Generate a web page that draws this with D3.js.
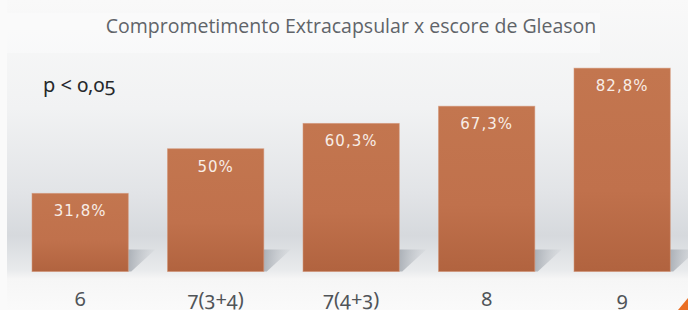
<!DOCTYPE html>
<html>
<head>
<meta charset="utf-8">
<script src="https://cdn.jsdelivr.net/npm/d3@7"></script>
<style>
    html, body { margin: 0; padding: 0; background: #fafafa; }
    #chart { width: 688px; height: 310px; }
    .onum { font-feature-settings: "onum" 1; }
</style>
</head>
<body>
<div id="chart"></div>
<script>
//Datos
const categorias = ['6', '7(3+4)', '7(4+3)', '8', '9'];
const valores = [31.8, 50, 60.3, 67.3, 82.8];
const etiquetas = ['31,8%', '50%', '60,3%', '67,3%', '82,8%'];
const titulo = 'Comprometimento Extracapsular x escore de Gleason';
const nota = 'p < 0,05';

//Colores fijos
const COLOR_BAR_TOP = '#c3764f',
COLOR_BAR_BOTTOM = '#b1633f',
COLOR_TITLE = '#606469',
COLOR_AXIS = '#505458',
COLOR_ACCENT = '#ea6f24';

let margin = {top: 26, right: 0, bottom: 39, left: 0},
    width = 688 - margin.left - margin.right,
    height = 310 - margin.top - margin.bottom;

let svg = d3.select('#chart')
    .append('svg')
      .attr('width', 688)
      .attr('height', 310);

let defs = svg.append('defs');

//Fondo degradado
let bg = defs.append('linearGradient').attr('id', 'bg').attr('x1', 0).attr('y1', 0).attr('x2', 0).attr('y2', 1);
[[0, '#f9f9f9'], [0.35, '#f1f2f3'], [0.62, '#e2e4e7'], [0.76, '#d6d9dd'], [0.87, '#e8eaec'], [0.9, '#f6f6f6'], [1, '#fafafa']]
    .forEach(function(s) { bg.append('stop').attr('offset', s[0]).attr('stop-color', s[1]); });

let barGrad = defs.append('linearGradient').attr('id', 'barGrad').attr('x1', 0).attr('y1', 0).attr('x2', 0).attr('y2', 1);
barGrad.append('stop').attr('offset', 0).attr('stop-color', COLOR_BAR_TOP);
barGrad.append('stop').attr('offset', 0.6).attr('stop-color', '#c0714c');
barGrad.append('stop').attr('offset', 1).attr('stop-color', COLOR_BAR_BOTTOM);

let shadowGrad = defs.append('linearGradient').attr('id', 'shadowGrad').attr('x1', 0).attr('y1', 0).attr('x2', 1).attr('y2', 0);
shadowGrad.append('stop').attr('offset', 0).attr('stop-color', '#9aa0a8').attr('stop-opacity', 0.75);
shadowGrad.append('stop').attr('offset', 1).attr('stop-color', '#b4b9bf').attr('stop-opacity', 0.1);

svg.append('rect')
    .attr('x', 0).attr('y', 0).attr('width', 688).attr('height', 310)
    .attr('fill', '#fafafa');

svg.append('rect')
    .attr('x', 7).attr('y', 0).attr('width', 681).attr('height', 310)
    .attr('fill', 'url(#bg)');

//Recuadro del título
svg.append('rect')
    .attr('x', 7).attr('y', 13).attr('width', 593).attr('height', 40)
    .attr('fill', '#fcfcfc').attr('opacity', 0.45);

let chart = svg.append('g')
    .attr('transform', 'translate(' + margin.left + ',' + margin.top + ')');

//Eje X
let x = d3.scaleBand()
    .domain(categorias)
    .range([12.4, 689.9])
    .paddingInner(0.29)
    .paddingOuter(0.145);

//Eje Y
let y = d3.scaleLinear()
    .domain([0, 100])
    .range([height + 0.5, 0]);

//Sombras
chart.selectAll('.sombra')
    .data(valores)
    .enter()
    .append('polygon')
    .attr('class', 'sombra')
    .attr('fill', 'url(#shadowGrad)')
    .attr('points', function(d, i) {
        let r = x(categorias[i]) + x.bandwidth(), b = y(0);
        return [[r, b - 22], [r + 27, b - 22], [r + 3, b], [r, b]].join(' ');
    });

//Barras
chart.selectAll('.bar')
    .data(valores)
    .enter()
    .append('rect')
    .attr('class', 'bar')
    .attr('x', function(d, i) { return x(categorias[i]); })
    .attr('y', function(d) { return y(d); })
    .attr('width', x.bandwidth())
    .attr('height', function(d) { return y(0) - y(d); })
    .attr('fill', 'url(#barGrad)')
    .attr('stroke', '#cf8a67')
    .attr('stroke-opacity', 0.5)
    .attr('stroke-width', 1);

//Etiquetas de valor
chart.selectAll('.valor')
    .data(valores)
    .enter()
    .append('text')
    .attr('class', 'valor')
    .attr('x', function(d, i) { return x(categorias[i]) + x.bandwidth() / 2; })
    .attr('y', function(d) { return y(d) + 23; })
    .attr('text-anchor', 'middle')
    .attr('font-family', 'DejaVu Sans, sans-serif')
    .attr('font-size', '15px')
    .attr('letter-spacing', '1px')
    .attr('fill', '#f8ede6')
    .text(function(d, i) { return etiquetas[i]; });

//Etiquetas del eje
let xAxis = function(g) {
    g.call(d3.axisBottom(x).tickSize(0).tickPadding(0));
    g.select('.domain').remove();
    g.selectAll('text')
        .attr('class', 'onum')
        .attr('dy', 0)
        .attr('y', 34)
        .attr('font-family', 'Noto Sans, sans-serif')
        .attr('font-size', '20px')
        .attr('fill', COLOR_AXIS);
};

chart.append('g')
    .attr('transform', 'translate(0,' + y(0) + ')')
    .call(xAxis);

//Título
svg.append('text')
    .attr('x', 351)
    .attr('y', 33)
    .attr('text-anchor', 'middle')
    .attr('font-family', 'Open Sans, sans-serif')
    .attr('font-size', '19.5px')
    .attr('fill', COLOR_TITLE)
    .text(titulo);

//Nota p
svg.append('text')
    .attr('class', 'onum')
    .attr('x', 43)
    .attr('y', 92)
    .attr('font-family', 'Noto Sans, sans-serif')
    .attr('font-size', '20px')
    .attr('fill', '#26282b')
    .text(nota);

//Esquina
svg.append('polygon')
    .attr('points', '688,298 688,310 678,310')
    .attr('fill', COLOR_ACCENT);
</script>
</body>
</html>
